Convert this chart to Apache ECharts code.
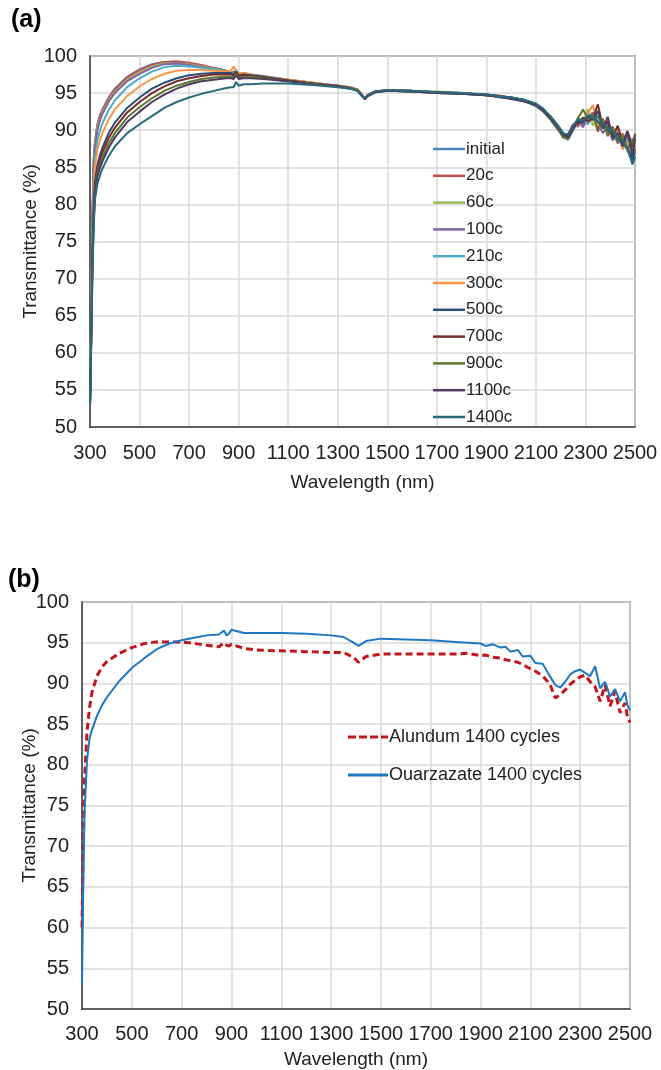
<!DOCTYPE html>
<html>
<head>
<meta charset="utf-8">
<script src="https://cdn.jsdelivr.net/npm/echarts@6/dist/echarts.min.js"></script>
<style>
html,body{margin:0;padding:0;background:#fff;}
#chart{width:661px;height:1070px;}
</style>
</head>
<body>
<div id="chart"></div>
<script>
// ---------- Panel (a) data ----------
const wavelengthsA = [300,305,310,315,320,330,340,350,375,400,450,500,550,600,650,700,750,800,850,870,880,890,900,920,950,1000,
  1100,1200,1300,1350,1380,1400,1410,1420,1450,1500,1600,1700,1800,1900,1950,2000,2050,2100,2130,2160,2190,
  2210,2230,2250,2270,2290,2310,2330,2350,2370,2390,2410,2430,2450,2470,2490,2500];

const seriesNamesA = ["initial","20c","60c","100c","210c","300c","500c","700c","900c","1100c","1400c"];
const colorsA = ["#4F81BD","#C0504D","#9BBB59","#8064A2","#4BACC6","#F79646","#2C4D75","#772C2A","#5F7530","#4D3B62","#276A7C"];

const initialT = [53,66,79,86,88.5,90.8,92.0,92.8,94.4,95.6,97.2,98.2,98.9,99.2,99.2,99.0,98.7,98.4,98.0,97.9,97.8,98.1,97.6,97.7,97.5,97.3,
  96.8,96.4,96.0,95.8,95.5,94.7,94.3,94.7,95.2,95.4,95.3,95.1,95.0,94.8,94.6,94.4,94.1,93.5,92.8,91.7,90.4,
  89.4,89.0,90.4,91.2,90.6,92.0,91.3,92.6,90.7,90.1,88.8,89.7,87.6,88.8,86.4,87.6];
const c20T = [53,66,79,86,88.3,90.6,91.9,92.7,94.3,95.5,97.1,98.1,98.8,99.2,99.3,99.1,98.8,98.4,98.0,97.9,97.7,98.0,97.5,97.7,97.4,97.2,
  96.8,96.4,96.0,95.8,95.5,94.7,94.2,94.6,95.2,95.4,95.2,95.1,94.9,94.8,94.5,94.3,94.0,93.4,92.6,91.5,90.2,
  89.1,89.3,90.8,90.5,91.6,91.0,92.2,89.8,91.4,89.3,90.2,88.2,89.6,87.2,88.4,87.8];
const c60T = [53,65,78,85,88.0,90.3,91.5,92.4,94.0,95.2,96.8,97.8,98.6,99.0,99.0,98.9,98.6,98.3,97.9,97.8,97.7,97.9,97.5,97.6,97.4,97.2,
  96.7,96.3,96.0,95.7,95.4,94.6,94.2,94.6,95.1,95.4,95.3,95.2,95.0,94.7,94.6,94.4,94.1,93.3,92.7,91.9,90.6,
  89.6,88.9,90.2,91.8,91.0,92.8,90.6,91.8,90.2,91.0,89.1,88.5,89.4,87.0,88.9,88.2];
const c100T = [53,65,78,85,87.6,90.0,91.3,92.2,93.8,95.0,96.6,97.6,98.4,98.9,99.0,98.8,98.5,98.2,97.9,97.8,97.6,97.9,97.5,97.6,97.4,97.1,
  96.7,96.3,95.9,95.7,95.4,94.6,94.3,94.7,95.2,95.3,95.2,95.0,94.9,94.7,94.5,94.3,93.9,93.5,92.5,91.4,90.0,
  89.3,89.5,90.6,91.3,90.4,91.7,92.4,90.9,89.6,90.8,88.6,89.8,88.0,89.2,86.8,88.6];
const c210T = [53,64,76,83,86.2,88.6,89.9,90.9,92.7,94.0,95.8,97.0,97.9,98.5,98.7,98.6,98.4,98.2,97.9,97.8,97.7,97.9,97.5,97.6,97.4,97.1,
  96.7,96.3,96.0,95.7,95.4,94.6,94.2,94.7,95.1,95.4,95.3,95.1,94.9,94.8,94.4,94.4,94.0,93.2,92.6,91.8,90.4,
  89.2,88.7,90.0,91.0,91.6,90.8,91.9,91.2,90.5,89.6,90.4,88.9,87.9,88.7,85.6,86.5];
const c300T = [53,63,75,82,85.0,87.4,88.6,89.6,91.4,92.8,94.6,95.9,96.9,97.6,98.0,98.1,98.1,98.0,97.9,98.0,98.6,97.9,97.7,97.7,97.5,97.2,
  96.8,96.4,96.0,95.8,95.5,94.7,94.3,94.7,95.2,95.4,95.3,95.1,95.0,94.7,94.7,94.3,94.0,93.4,92.8,91.5,90.3,
  89.5,89.1,90.5,91.5,90.9,92.3,93.4,90.3,91.6,89.9,89.0,90.3,87.4,88.3,87.0,87.9];
const c500T = [53,63,74,80,83.0,85.3,86.6,87.6,89.6,91.0,93.0,94.4,95.6,96.4,97.0,97.4,97.6,97.7,97.7,97.7,97.5,97.9,97.4,97.5,97.4,97.2,
  96.7,96.3,95.9,95.7,95.4,94.6,94.2,94.6,95.1,95.3,95.2,95.1,94.9,94.8,94.6,94.4,94.1,93.5,92.7,91.6,90.5,
  89.4,89.2,90.3,91.4,91.1,91.8,92.0,91.1,90.6,90.0,89.4,88.8,88.3,87.6,86.0,87.2];
const c700T = [53,62,73,79,82.4,84.8,86.0,87.0,88.9,90.3,92.4,93.8,95.0,95.9,96.6,97.0,97.3,97.5,97.5,97.5,97.4,97.8,97.3,97.4,97.3,97.1,
  96.7,96.3,96.0,95.7,95.4,94.6,94.3,94.7,95.2,95.4,95.3,95.1,95.0,94.7,94.6,94.3,94.0,93.4,92.6,91.7,90.4,
  89.3,89.4,90.7,90.9,91.7,91.2,91.6,93.5,90.4,91.2,89.0,90.6,88.4,89.9,87.7,89.5];
const c900T = [53,62,72,78,81.8,84.2,85.4,86.3,88.2,89.6,91.7,93.1,94.3,95.3,96.0,96.5,96.9,97.1,97.2,97.2,97.1,97.6,97.1,97.2,97.2,97.0,
  96.6,96.3,95.9,95.7,95.4,94.6,94.2,94.6,95.1,95.3,95.2,95.0,94.9,94.7,94.5,94.3,94.0,93.3,92.5,91.4,90.1,
  89.0,88.8,90.1,91.6,92.8,91.5,92.1,90.0,91.5,89.2,90.5,88.4,89.3,87.5,88.8,87.0];
const c1100T = [53,62,72,78,81.4,83.8,84.9,85.8,87.6,89.0,91.1,92.5,93.8,94.8,95.6,96.2,96.6,96.8,97.0,97.0,96.9,97.4,96.9,97.0,97.0,96.9,
  96.6,96.2,95.9,95.6,95.3,94.5,94.2,94.6,95.1,95.3,95.2,95.0,94.9,94.7,94.5,94.2,93.9,93.4,92.6,91.6,90.3,
  89.4,89.0,90.2,91.2,91.0,91.9,91.4,92.6,90.2,91.8,88.9,89.6,87.8,89.8,86.6,89.0];
const c1400T = [53,61,71,77,80.6,82.8,83.9,84.8,86.5,87.8,89.6,90.8,91.9,93.0,93.8,94.4,94.9,95.3,95.7,95.8,95.8,96.5,96.0,96.2,96.2,96.3,
  96.3,96.1,95.8,95.6,95.3,94.6,94.3,94.7,95.2,95.4,95.3,95.1,95.0,94.8,94.6,94.4,94.1,93.6,92.9,91.8,90.6,
  89.6,89.4,90.6,91.5,91.2,92.0,91.6,91.9,90.8,90.4,89.8,88.8,88.6,87.4,85.4,86.4];
const valuesA = [initialT,c20T,c60T,c100T,c210T,c300T,c500T,c700T,c900T,c1100T,c1400T];

// ---------- Panel (b) data ----------
const wavelengthsB = [300,305,310,320,330,340,360,380,400,450,500,550,600,650,700,750,800,850,870,880,890,900,950,1000,
  1100,1200,1300,1350,1390,1410,1440,1500,1600,1700,1800,1850,1900,1920,1950,1980,2000,2020,2050,2070,2100,2120,2150,2170,2180,2200,2220,2240,
  2260,2280,2300,2320,2340,2360,2380,2400,2420,2440,2460,2480,2490,2500];
const alundumT = [60,70,78,84,87,88.9,90.9,92.0,92.7,93.7,94.4,94.9,95.1,95.1,95.1,94.9,94.7,94.5,95.0,94.7,94.6,94.8,94.3,94.1,
  94.0,93.9,93.8,93.8,93.2,92.6,93.3,93.6,93.6,93.6,93.6,93.7,93.4,93.5,93.2,93.1,92.9,92.8,92.6,92.3,91.8,91.5,90.9,90.2,89.8,88.2,88.6,89.2,
  89.9,90.4,90.8,91.0,90.2,89.6,87.8,89.8,87.2,89.0,86.4,87.6,85.8,85.2];
const ouarzazateT = [53,65,74,80.5,83.2,84.3,86.0,87.3,88.3,90.3,91.9,93.1,94.2,94.9,95.3,95.6,95.9,96.0,96.5,95.9,96.1,96.6,96.2,96.2,
  96.2,96.1,95.9,95.7,95.0,94.6,95.2,95.5,95.4,95.3,95.1,95.0,94.9,94.6,94.8,94.4,94.5,93.9,94.1,93.3,93.4,92.5,92.4,91.3,90.8,89.8,89.5,90.2,
  91.1,91.5,91.7,91.3,90.9,92.1,89.4,90.2,88.4,89.3,87.8,88.9,87.3,86.7];
const seriesNamesB = ["Alundum 1400 cycles","Ouarzazate 1400 cycles"];

const yTicks = {min:50, max:100, interval:5};
const xTicks = {min:300, max:2500, interval:200};

// ---------- chart ----------
const FONT = '"Liberation Sans", Arial, sans-serif';
const TXT = '#222222';

function pairs(xs, ys){ return xs.map((x,i)=>[x, ys[i]]); }

function xAxisCfg(gridIndex, gap, margin){
  return {
    type:'value', gridIndex, min:xTicks.min, max:xTicks.max, interval:xTicks.interval,
    name:'Wavelength (nm)', nameLocation:'middle', nameGap:gap, nameMoveOverlap:false,
    nameTextStyle:{fontFamily:FONT, fontSize:19, color:TXT},
    axisLine:{show:true, lineStyle:{color:'#404040', width:1.5}},
    axisTick:{show:false},
    axisLabel:{fontFamily:FONT, fontSize:20, color:TXT, margin:margin, formatter:v=>String(v)},
    splitLine:{show:true, lineStyle:{color:'#d9d9d9', width:1.5}}
  };
}
function yAxisCfg(gridIndex, gap){
  return {
    type:'value', gridIndex, min:yTicks.min, max:yTicks.max, interval:yTicks.interval,
    name:'Transmittance (%)', nameLocation:'middle', nameGap:gap, nameMoveOverlap:false,
    nameTextStyle:{fontFamily:FONT, fontSize:19, color:TXT},
    axisLine:{show:true, lineStyle:{color:'#404040', width:1.5}},
    axisTick:{show:false},
    axisLabel:{fontFamily:FONT, fontSize:20, color:TXT, margin:13, formatter:v=>String(v)},
    splitLine:{show:true, lineStyle:{color:'#d9d9d9', width:1.5}}
  };
}

const series = [];
seriesNamesA.forEach((name,i)=>{
  series.push({
    name, type:'line', xAxisIndex:0, yAxisIndex:0, symbol:'none', smooth:false,
    data:pairs(wavelengthsA, valuesA[i]),
    lineStyle:{color:colorsA[i], width:2}, itemStyle:{color:colorsA[i]},
    emphasis:{disabled:true}
  });
});
series.push({
  name:seriesNamesB[0], type:'line', xAxisIndex:1, yAxisIndex:1, symbol:'none',
  data:pairs(wavelengthsB, alundumT),
  lineStyle:{color:'#C0161C', width:3, type:[7,4]}, itemStyle:{color:'#C0161C'},
  emphasis:{disabled:true}
});
series.push({
  name:seriesNamesB[1], type:'line', xAxisIndex:1, yAxisIndex:1, symbol:'none',
  data:pairs(wavelengthsB, ouarzazateT),
  lineStyle:{color:'#1F77C4', width:2}, itemStyle:{color:'#1F77C4'},
  emphasis:{disabled:true}
});

const dashIcon = 'path://M0,0h8v3h-8zM11,0h8v3h-8zM22,0h8v3h-8zM33,0h7v3h-7z';

const chart = echarts.init(document.getElementById('chart'), null, {renderer:'canvas'});
chart.setOption({
  animation:false,
  backgroundColor:'#ffffff',
  grid:[
    {left:90, top:56, width:545, height:371, show:true, borderColor:'#404040', borderWidth:1.5, backgroundColor:'transparent'},
    {left:82, top:602, width:548, height:407, show:true, borderColor:'#404040', borderWidth:1.5, backgroundColor:'transparent'}
  ],
  xAxis:[xAxisCfg(0, 46, 16), xAxisCfg(1, 41, 15)],
  yAxis:[yAxisCfg(0, 50), yAxisCfg(1, 43)],
  legend:[
    {data:seriesNamesA.map(n=>({name:n, icon:'rect'})), orient:'vertical', left:433, top:139, padding:0,
     itemWidth:32, itemHeight:2.5, itemGap:6.8,
     textStyle:{fontFamily:FONT, fontSize:17, lineHeight:20, color:TXT, padding:[0,0,0,-4]}, selectedMode:false},
    {data:[{name:seriesNamesB[0], icon:dashIcon},{name:seriesNamesB[1], icon:'rect'}],
     orient:'vertical', left:348, top:727, padding:0, itemWidth:40, itemHeight:3, itemGap:18,
     textStyle:{fontFamily:FONT, fontSize:18, lineHeight:20, color:TXT, padding:[0,0,0,-4]}, selectedMode:false}
  ],
  graphic:[
    {type:'text', left:11, top:8, style:{text:'(a)', font:'bold 25px "Liberation Sans", Arial, sans-serif', fill:'#000'}},
    {type:'text', left:8, top:568, style:{text:'(b)', font:'bold 25px "Liberation Sans", Arial, sans-serif', fill:'#000'}}
  ],
  series
});
</script>
</body>
</html>
